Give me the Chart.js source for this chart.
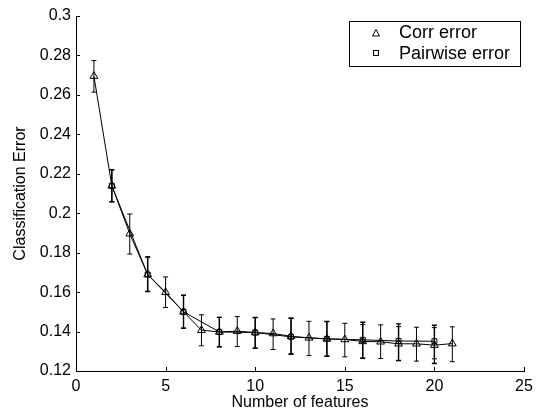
<!DOCTYPE html>
<html>
<head>
<meta charset="utf-8">
<script src="https://cdn.jsdelivr.net/npm/chart.js@4/dist/chart.umd.min.js"></script>
<style>
    body { margin: 0; background: #fff; }
    #wrap { width: 540px; height: 414px; }
</style>
</head>
<body>
<div id="wrap"><canvas id="errChart" width="540" height="414"></canvas></div>
<script>
// number of features used for the correlation-based ranking
const corrFeatures = [1, 2, 3, 4, 5, 6, 7, 8, 9, 10, 11, 12, 13, 14, 15, 16, 17, 18, 19, 20, 21];
const corrError = [0.2695, 0.2139, 0.1896, 0.1689, 0.1599, 0.1500, 0.1407, 0.1398, 0.1402, 0.1395, 0.1390,
    0.1376, 0.1368, 0.1363, 0.1360, 0.1350, 0.1348, 0.1338, 0.1338, 0.1331, 0.1339];
const corrLower = [0.2614, 0.2058, 0.1793, 0.1603, 0.1522, 0.1417, 0.1328, 0.1323, 0.1324, 0.1315, 0.1309,
    0.1287, 0.1278, 0.1275, 0.1272, 0.1265, 0.1263, 0.1253, 0.1250, 0.1262, 0.1247];
const corrUpper = [0.2774, 0.2220, 0.1996, 0.1778, 0.1677, 0.1584, 0.1485, 0.1472, 0.1476, 0.1471, 0.1464,
    0.1466, 0.1452, 0.1451, 0.1442, 0.1435, 0.1434, 0.1425, 0.1422, 0.1420, 0.1424];

// pairwise selection is only evaluated on even feature counts
const pairFeatures = [2, 4, 6, 8, 10, 12, 14, 16, 18, 20];
const pairError = [0.2139, 0.1689, 0.1500, 0.1398, 0.1395, 0.1373, 0.1363, 0.1358, 0.1352, 0.1351];
const pairLower = [0.2058, 0.1603, 0.1417, 0.1323, 0.1315, 0.1285, 0.1275, 0.1265, 0.1253, 0.1238];
const pairUpper = [0.2220, 0.1778, 0.1584, 0.1472, 0.1471, 0.1469, 0.1451, 0.1447, 0.1439, 0.1432];

const xTicks = [0, 5, 10, 15, 20, 25];
const yTicks = [0.12, 0.14, 0.16, 0.18, 0.2, 0.22, 0.24, 0.26, 0.28, 0.3];

const FONT = 'Liberation Sans, Arial, Helvetica, sans-serif';

const toPoints = (xs, ys) => xs.map((x, i) => ({ x: x, y: ys[i] }));

/**
 * Draws vertical error bars with caps for each dataset
 */
const errorBarPlugin = {
    id: 'errorBars',
    afterDatasetsDraw(chart) {
        const ctx = chart.ctx;
        const xs = chart.scales.x;
        const ys = chart.scales.y;
        const sets = [
            { xv: corrFeatures, lo: corrLower, hi: corrUpper, w: 1 },
            { xv: pairFeatures, lo: pairLower, hi: pairUpper, w: 1.4 }
        ];
        ctx.save();
        ctx.strokeStyle = '#000';
        sets.forEach(s => {
            ctx.lineWidth = s.w;
            s.xv.forEach((xv, i) => {
                const px = xs.getPixelForValue(xv);
                const top = ys.getPixelForValue(s.hi[i]);
                const bot = ys.getPixelForValue(s.lo[i]);
                ctx.beginPath();
                ctx.moveTo(px, top);
                ctx.lineTo(px, bot);
                ctx.moveTo(px - 2.5, top);
                ctx.lineTo(px + 2.5, top);
                ctx.moveTo(px - 2.5, bot);
                ctx.lineTo(px + 2.5, bot);
                ctx.stroke();
            });
        });
        ctx.restore();
    }
};

/**
 * Inward pointing ticks and the boxed legend, matlab style
 */
const axesDecorPlugin = {
    id: 'axesDecor',
    afterDraw(chart) {
        const ctx = chart.ctx;
        const area = chart.chartArea;
        const xs = chart.scales.x;
        const ys = chart.scales.y;
        ctx.save();
        ctx.strokeStyle = '#000';
        ctx.lineWidth = 1;
        ctx.beginPath();
        xTicks.forEach(v => {
            const px = Math.round(xs.getPixelForValue(v)) + 0.5;
            ctx.moveTo(px, area.bottom);
            ctx.lineTo(px, area.bottom - 4);
        });
        yTicks.forEach(v => {
            const py = Math.round(ys.getPixelForValue(v)) + 0.5;
            ctx.moveTo(area.left, py);
            ctx.lineTo(area.left + 4, py);
        });
        ctx.stroke();

        // legend box
        const bx = 349.5, by = 21.5, bw = 171, bh = 45;
        ctx.fillStyle = '#fff';
        ctx.fillRect(bx, by, bw, bh);
        ctx.strokeRect(bx, by, bw, bh);

        ctx.lineWidth = 1;
        ctx.beginPath();
        ctx.moveTo(376, 29.5);
        ctx.lineTo(379.5, 36);
        ctx.lineTo(372.5, 36);
        ctx.closePath();
        ctx.stroke();
        ctx.strokeRect(373.5, 50.5, 5, 5);

        ctx.fillStyle = '#000';
        ctx.font = '18px ' + FONT;
        ctx.textBaseline = 'middle';
        ctx.textAlign = 'left';
        ctx.fillText('Corr error', 399, 33);
        ctx.fillText('Pairwise error', 399, 54);
        ctx.restore();
    }
};

function createErrorChart(elementId) {
    const ctx = document.getElementById(elementId).getContext('2d');

    new Chart(ctx, {
        type: 'scatter',
        data: {
            datasets: [
                {
                    label: 'Corr error',
                    data: toPoints(corrFeatures, corrError),
                    showLine: true,
                    borderColor: '#000',
                    borderWidth: 1,
                    pointStyle: 'triangle',
                    pointRadius: 4.5,
                    pointBorderWidth: 1,
                    pointBorderColor: '#000',
                    pointBackgroundColor: 'rgba(0,0,0,0)'
                },
                {
                    label: 'Pairwise error',
                    data: toPoints(pairFeatures, pairError),
                    showLine: true,
                    borderColor: '#000',
                    borderWidth: 1,
                    pointStyle: 'rect',
                    pointRadius: 3.5,
                    pointBorderWidth: 1,
                    pointBorderColor: '#000',
                    pointBackgroundColor: 'rgba(0,0,0,0)'
                }
            ]
        },
        options: {
            responsive: false,
            animation: false,
            layout: { padding: { top: 16, right: 16, left: 0, bottom: 0 } },
            scales: {
                x: {
                    type: 'linear',
                    min: 0,
                    max: 25,
                    afterBuildTicks: axis => { axis.ticks = xTicks.map(v => ({ value: v })); },
                    afterFit: axis => { axis.height = 43; },
                    grid: { display: true, drawOnChartArea: false, drawTicks: false },
                    border: { display: true, color: '#000', width: 1 },
                    ticks: {
                        color: '#000',
                        padding: 6,
                        font: { family: FONT, size: 16 },
                        maxRotation: 0
                    },
                    title: {
                        display: true,
                        text: 'Number of features',
                        color: '#000',
                        font: { family: FONT, size: 16 },
                        padding: { top: 0, bottom: 2 }
                    }
                },
                y: {
                    type: 'linear',
                    min: 0.12,
                    max: 0.3,
                    afterBuildTicks: axis => { axis.ticks = yTicks.map(v => ({ value: v })); },
                    afterFit: axis => { axis.width = 76; },
                    grid: { display: true, drawOnChartArea: false, drawTicks: false },
                    border: { display: true, color: '#000', width: 1 },
                    ticks: {
                        color: '#000',
                        padding: 5,
                        font: { family: FONT, size: 16 },
                        callback: v => String(Number(v.toFixed(2)))
                    },
                    title: {
                        display: true,
                        text: 'Classification Error',
                        color: '#000',
                        font: { family: FONT, size: 16 },
                        padding: { top: 11, bottom: 0 }
                    }
                }
            },
            plugins: {
                legend: { display: false },
                tooltip: { enabled: false }
            }
        },
        plugins: [errorBarPlugin, axesDecorPlugin]
    });
}

createErrorChart('errChart');
</script>
</body>
</html>
